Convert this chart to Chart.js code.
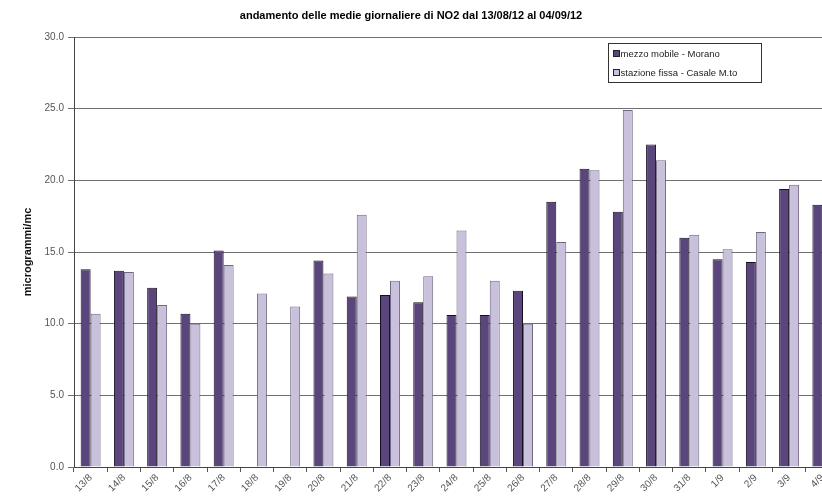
<!DOCTYPE html>
<html>
<head>
<meta charset="utf-8">
<script src="https://cdn.jsdelivr.net/npm/chart.js@4"></script>
<style>
  html, body { margin: 0; padding: 0; background: #fff; overflow: hidden; }
  #wrap { width: 850px; height: 496px; }
</style>
</head>
<body>
<div id="wrap"><canvas id="chart" width="850" height="496"></canvas></div>
<script>
// dati (µg/m³)
const giorni = ["13/8","14/8","15/8","16/8","17/8","18/8","19/8","20/8","21/8","22/8","23/8","24/8",
  "25/8","26/8","27/8","28/8","29/8","30/8","31/8","1/9","2/9","3/9","4/9"];
const morano = [13.8, 13.7, 12.5, 10.7, 15.1, null, null, 14.4, 11.9, 12.0, 11.5, 10.6,
  10.6, 12.3, 18.5, 20.8, 17.8, 22.5, 16.0, 14.5, 14.3, 19.4, 18.3];
const casale = [10.7, 13.6, 11.3, 10.0, 14.1, 12.1, 11.2, 13.5, 17.6, 13.0, 13.3, 16.5,
  13.0, 10.0, 15.7, 20.7, 24.9, 21.4, 16.2, 15.2, 16.4, 19.7, 20.1];
const yTicks = [0, 5, 10, 15, 20, 25, 30];

const titolo = "andamento delle medie giornaliere di NO2 dal 13/08/12 al 04/09/12";
const FONT = "'Liberation Sans', Arial, sans-serif";

// titolo + legenda disegnati a mano (la legenda sta dentro l'area del grafico)
const decorazioni = {
  id: "decorazioni",
  afterDraw(chart) {
    const ctx = chart.ctx;
    ctx.save();
    ctx.fillStyle = "#000";
    ctx.font = "bold 11px " + FONT;
    ctx.textAlign = "center";
    ctx.textBaseline = "middle";
    ctx.fillText(titolo, 411, 16);

    // riquadro legenda
    const lx = 608.5, ly = 43.5, lw = 153, lh = 39;
    ctx.fillStyle = "#fff";
    ctx.fillRect(lx, ly, lw, lh);
    ctx.strokeStyle = "#333";
    ctx.lineWidth = 1;
    ctx.strokeRect(lx, ly, lw, lh);
    ctx.font = "9.5px " + FONT;
    ctx.textAlign = "left";
    chart.data.datasets.forEach((ds, i) => {
      const y = ly + 10 + i * 19;
      ctx.fillStyle = ds.backgroundColor;
      ctx.fillRect(lx + 5, y - 3, 6, 6);
      ctx.strokeStyle = "#222";
      ctx.strokeRect(lx + 5, y - 3, 6, 6);
      ctx.fillStyle = "#222";
      ctx.fillText(ds.label, lx + 12, y + 0.5);
    });
    ctx.restore();
  }
};

new Chart(document.getElementById("chart"), {
  type: "bar",
  data: {
    labels: giorni,
    datasets: [
      { label: "mezzo mobile - Morano", data: morano, backgroundColor: "#5b457d",
        borderColor: "#140e1e", borderWidth: 1 },
      { label: "stazione fissa - Casale M.to", data: casale, backgroundColor: "#c9c0dc",
        borderColor: "#6e6880", borderWidth: 1 },
    ]
  },
  options: {
    responsive: false,
    animation: false,
    devicePixelRatio: 1,
    layout: { padding: { top: 37, right: 11, left: 0, bottom: 0 } },
    plugins: {
      legend: { display: false },
      title: { display: false },
      tooltip: { enabled: false }
    },
    datasets: { bar: { categoryPercentage: 0.6, barPercentage: 1 } },
    scales: {
      x: {
        afterFit: s => { s.height = 29; },
        grid: { display: true, drawOnChartArea: false, offset: true, color: "#555",
          tickLength: 5 },
        border: { color: "#444" },
        ticks: { color: "#555", font: { family: FONT, size: 10 }, maxRotation: 45,
          minRotation: 45, autoSkip: false, padding: 0 }
      },
      y: {
        min: 0, max: 30,
        afterFit: s => { s.width = 74; },
        afterBuildTicks: s => { s.ticks = yTicks.map(v => ({ value: v })); },
        grid: { color: "#707070", tickLength: 6, lineWidth: 1 },
        border: { color: "#444" },
        title: { display: true, text: "microgrammi/mc", color: "#111",
          font: { family: FONT, size: 11, weight: "bold" }, padding: { top: 21, bottom: 0 } },
        ticks: { color: "#555", font: { family: FONT, size: 10 }, padding: 4,
          callback: v => v.toFixed(1) }
      }
    }
  },
  plugins: [decorazioni]
});
</script>
</body>
</html>
